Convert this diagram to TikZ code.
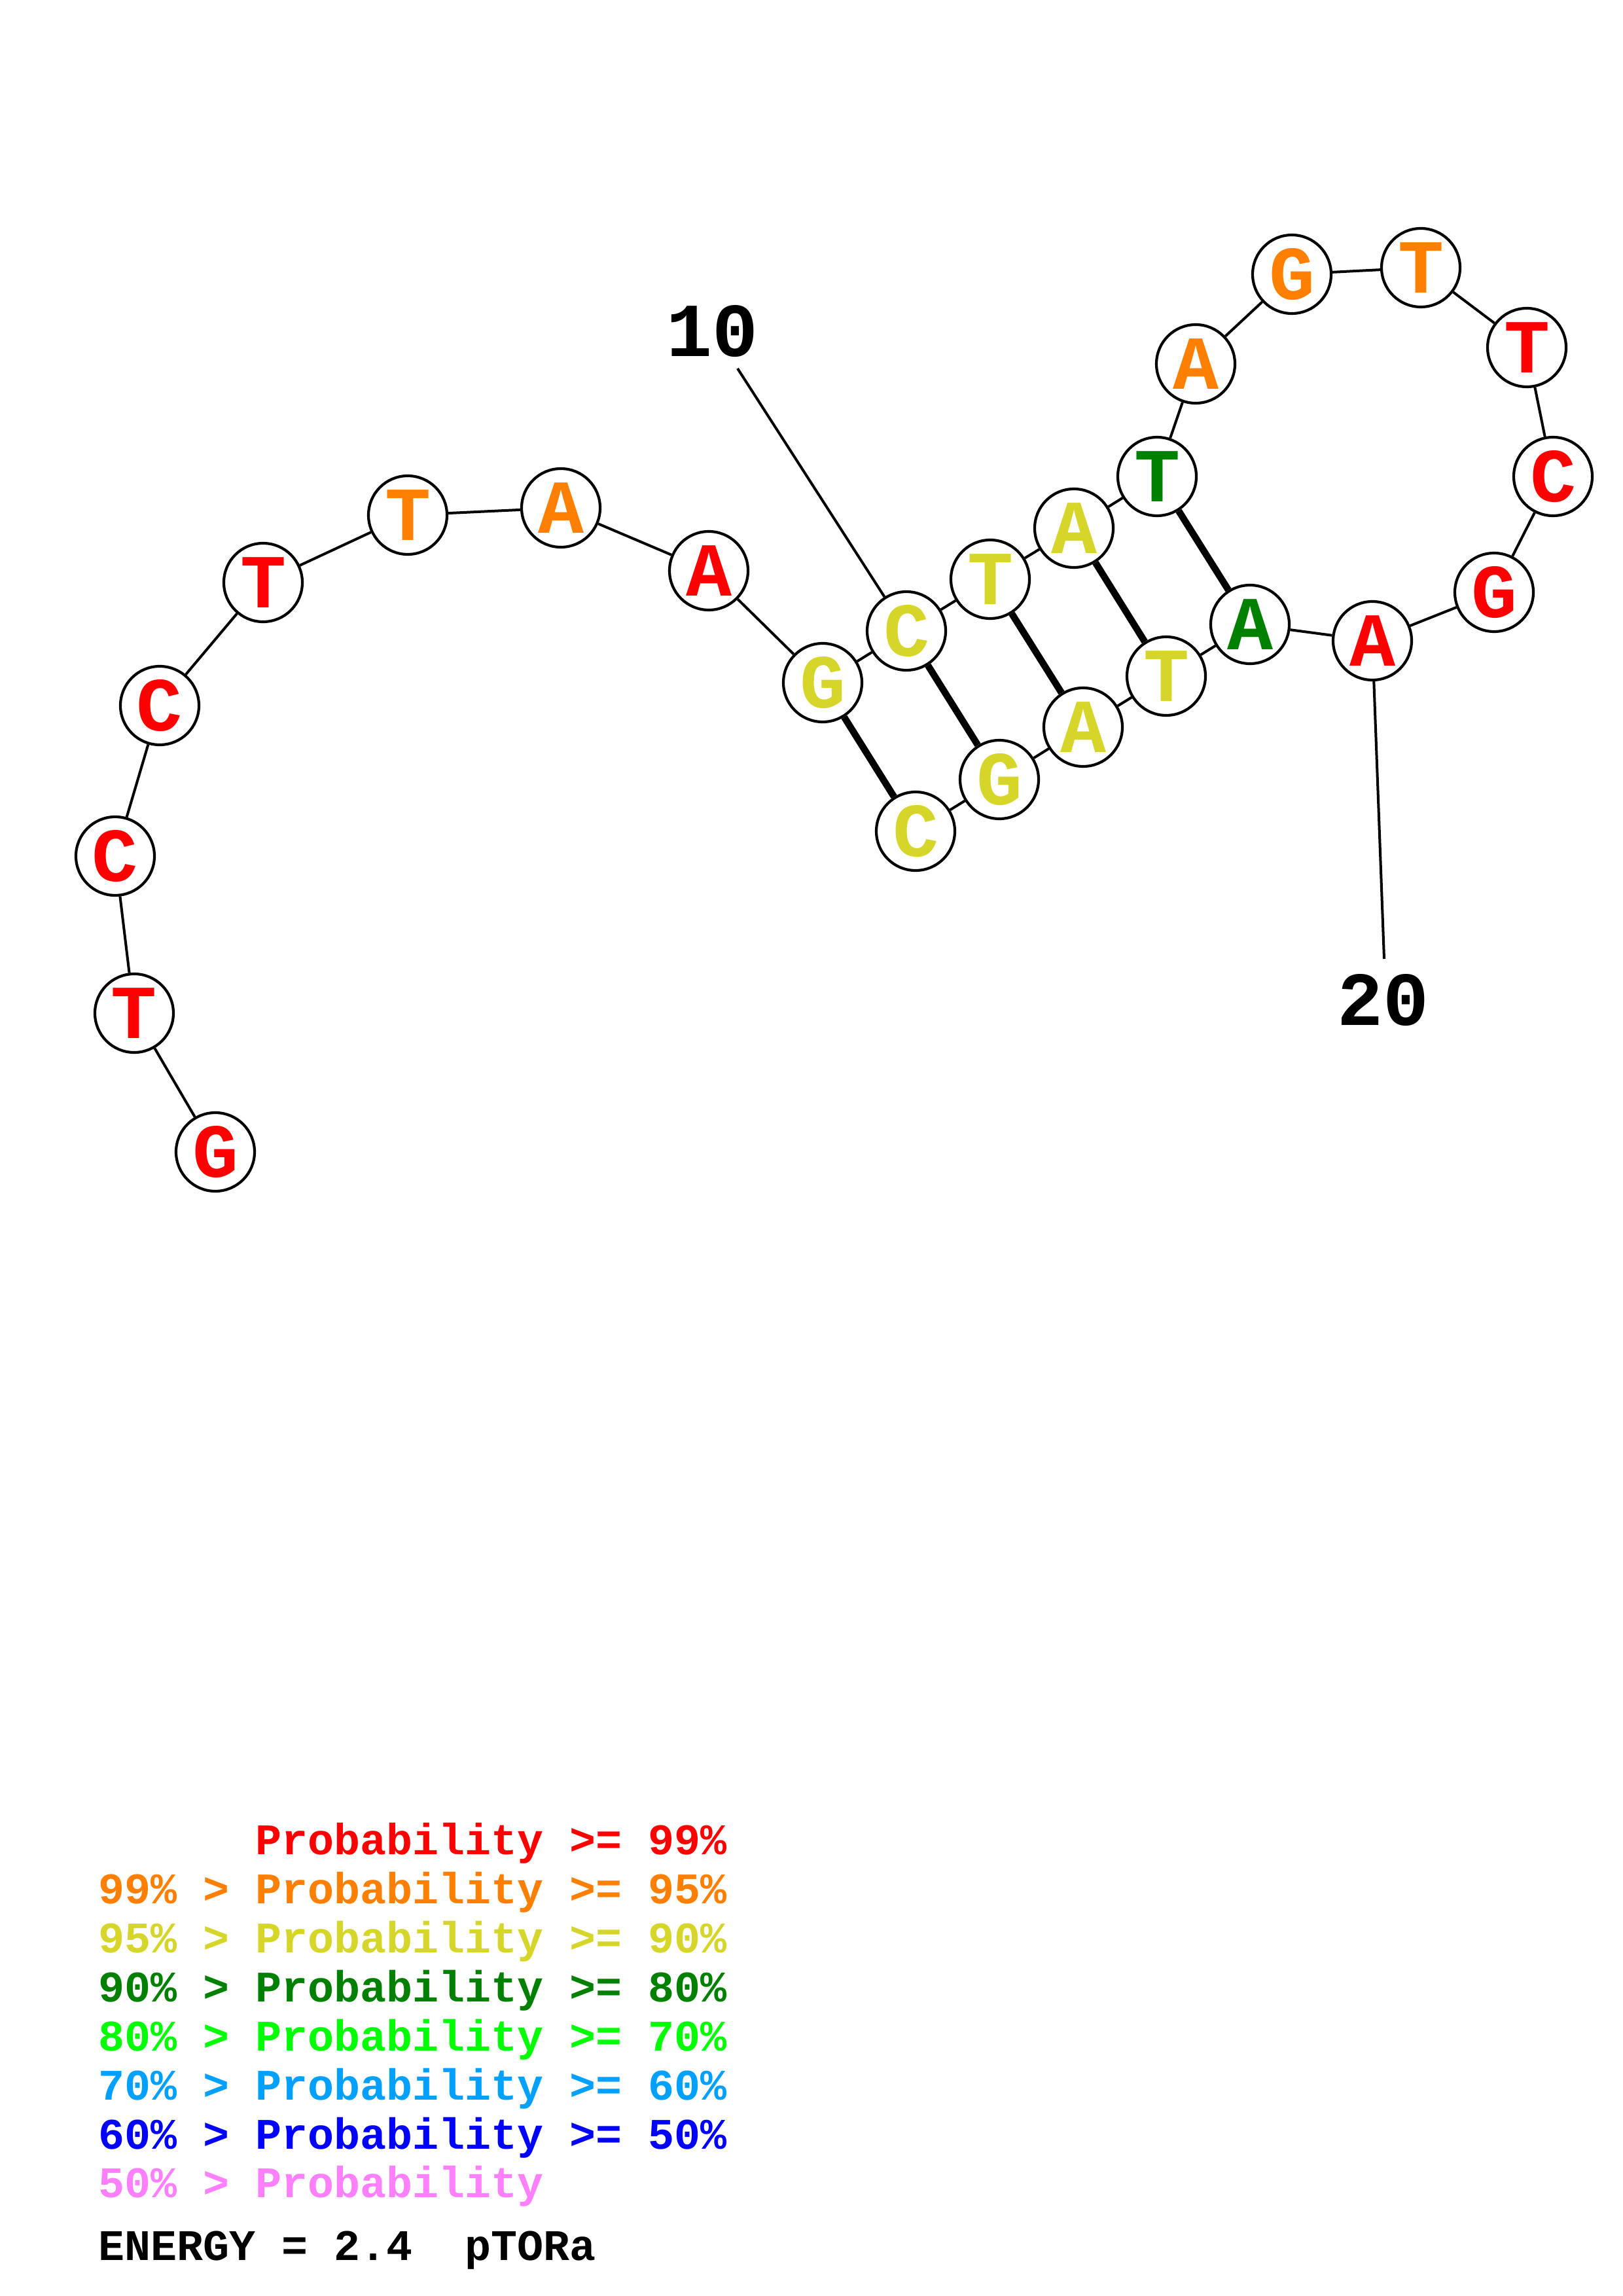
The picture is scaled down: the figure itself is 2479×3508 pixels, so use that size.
\documentclass[tikz,border=0pt]{standalone}
\usepackage{fontspec}
\newfontfamily\cour{Liberation Mono}
\definecolor{pred}{RGB}{255,0,0}
\definecolor{porange}{RGB}{255,128,0}
\definecolor{pyellow}{RGB}{214,214,42}
\definecolor{pgreen}{RGB}{0,128,0}
\definecolor{plime}{RGB}{0,255,0}
\definecolor{psky}{RGB}{0,160,255}
\definecolor{pblue}{RGB}{0,0,255}
\definecolor{ppink}{RGB}{255,128,255}
\begin{document}
\begin{tikzpicture}[x=0.24pt,y=-0.24pt,
  nt/.style={circle, draw=black, line width=1pt, fill=white, minimum size=28.8pt, inner sep=0pt,
             font=\cour\bfseries\fontsize{28}{30}\selectfont},
  bb/.style={line width=0.96pt},
  bp/.style={line width=2.5pt},
  numlab/.style={inner sep=0pt, font=\cour\bfseries\fontsize{28}{30}\selectfont},
  leg/.style={anchor=base west, inner sep=0pt, font=\cour\bfseries\fontsize{16}{18}\selectfont}]
\useasboundingbox (0,0) rectangle (2479,3508);
\fill[white] (0,0) rectangle (2479,3508);
% nucleotides
\node[nt, text=pred]    (n1)  at (329,1760)    {G};
\node[nt, text=pred]    (n2)  at (205,1548)    {T};
\node[nt, text=pred]    (n3)  at (176,1308)    {C};
\node[nt, text=pred]    (n4)  at (244,1078)    {C};
\node[nt, text=pred]    (n5)  at (402,890)     {T};
\node[nt, text=porange] (n6)  at (623,787)     {T};
\node[nt, text=porange] (n7)  at (857,776)     {A};
\node[nt, text=pred]    (n8)  at (1083,872)    {A};
\node[nt, text=pyellow] (n9)  at (1257,1043)   {G};
\node[nt, text=pyellow] (n10) at (1385,964)    {C};
\node[nt, text=pyellow] (n11) at (1513,885)    {T};
\node[nt, text=pyellow] (n12) at (1641,807)    {A};
\node[nt, text=pgreen]  (n13) at (1768,728)    {T};
\node[nt, text=porange] (n14) at (1827,556)    {A};
\node[nt, text=porange] (n15) at (1974,419)    {G};
\node[nt, text=porange] (n16) at (2171,409)    {T};
\node[nt, text=pred]    (n17) at (2333,531)    {T};
\node[nt, text=pred]    (n18) at (2373,728)    {C};
\node[nt, text=pred]    (n19) at (2283,905)    {G};
\node[nt, text=pred]    (n20) at (2097,979)    {A};
\node[nt, text=pgreen]  (n21) at (1910,954)    {A};
\node[nt, text=pyellow] (n22) at (1782,1033)   {T};
\node[nt, text=pyellow] (n23) at (1655,1111)   {A};
\node[nt, text=pyellow] (n24) at (1527,1191)   {G};
\node[nt, text=pyellow] (n25) at (1399,1270)   {C};
% backbone
\foreach \a/\b in {n1/n2,n2/n3,n3/n4,n4/n5,n5/n6,n6/n7,n7/n8,n8/n9,n9/n10,n10/n11,n11/n12,n12/n13,n13/n14,n14/n15,n15/n16,n16/n17,n17/n18,n18/n19,n19/n20,n20/n21,n21/n22,n22/n23,n23/n24,n24/n25}
  \draw[bb] (\a) -- (\b);
% base pairs
\foreach \a/\b in {n9/n25,n10/n24,n11/n23,n12/n22,n13/n21}
  \draw[bp] (\a) -- (\b);
% position labels
\node[numlab] (lab10) at (1088,506) {10};
\coordinate (l10) at (1127,563);
\draw[bb] (l10) -- (n10);
\node[numlab] (lab20) at (2113,1528) {20};
\coordinate (l20) at (2115,1465);
\draw[bb] (n20) -- (l20);
% legend
\node[leg, text=pred]    (g1) at (150,2833) {\phantom{99\% > }Probability >= 99\%};
\node[leg, text=porange] (g2) at (150,2908) {99\% > Probability >= 95\%};
\node[leg, text=pyellow] (g3) at (150,2983) {95\% > Probability >= 90\%};
\node[leg, text=pgreen]  (g4) at (150,3058) {90\% > Probability >= 80\%};
\node[leg, text=plime]   (g5) at (150,3133) {80\% > Probability >= 70\%};
\node[leg, text=psky]    (g6) at (150,3208) {70\% > Probability >= 60\%};
\node[leg, text=pblue]   (g7) at (150,3283) {60\% > Probability >= 50\%};
\node[leg, text=ppink]   (g8) at (150,3357) {50\% > Probability};
\node[leg, text=black]   (g9) at (150,3453) {ENERGY = 2.4\ \ pTORa};
\end{tikzpicture}
\end{document}
